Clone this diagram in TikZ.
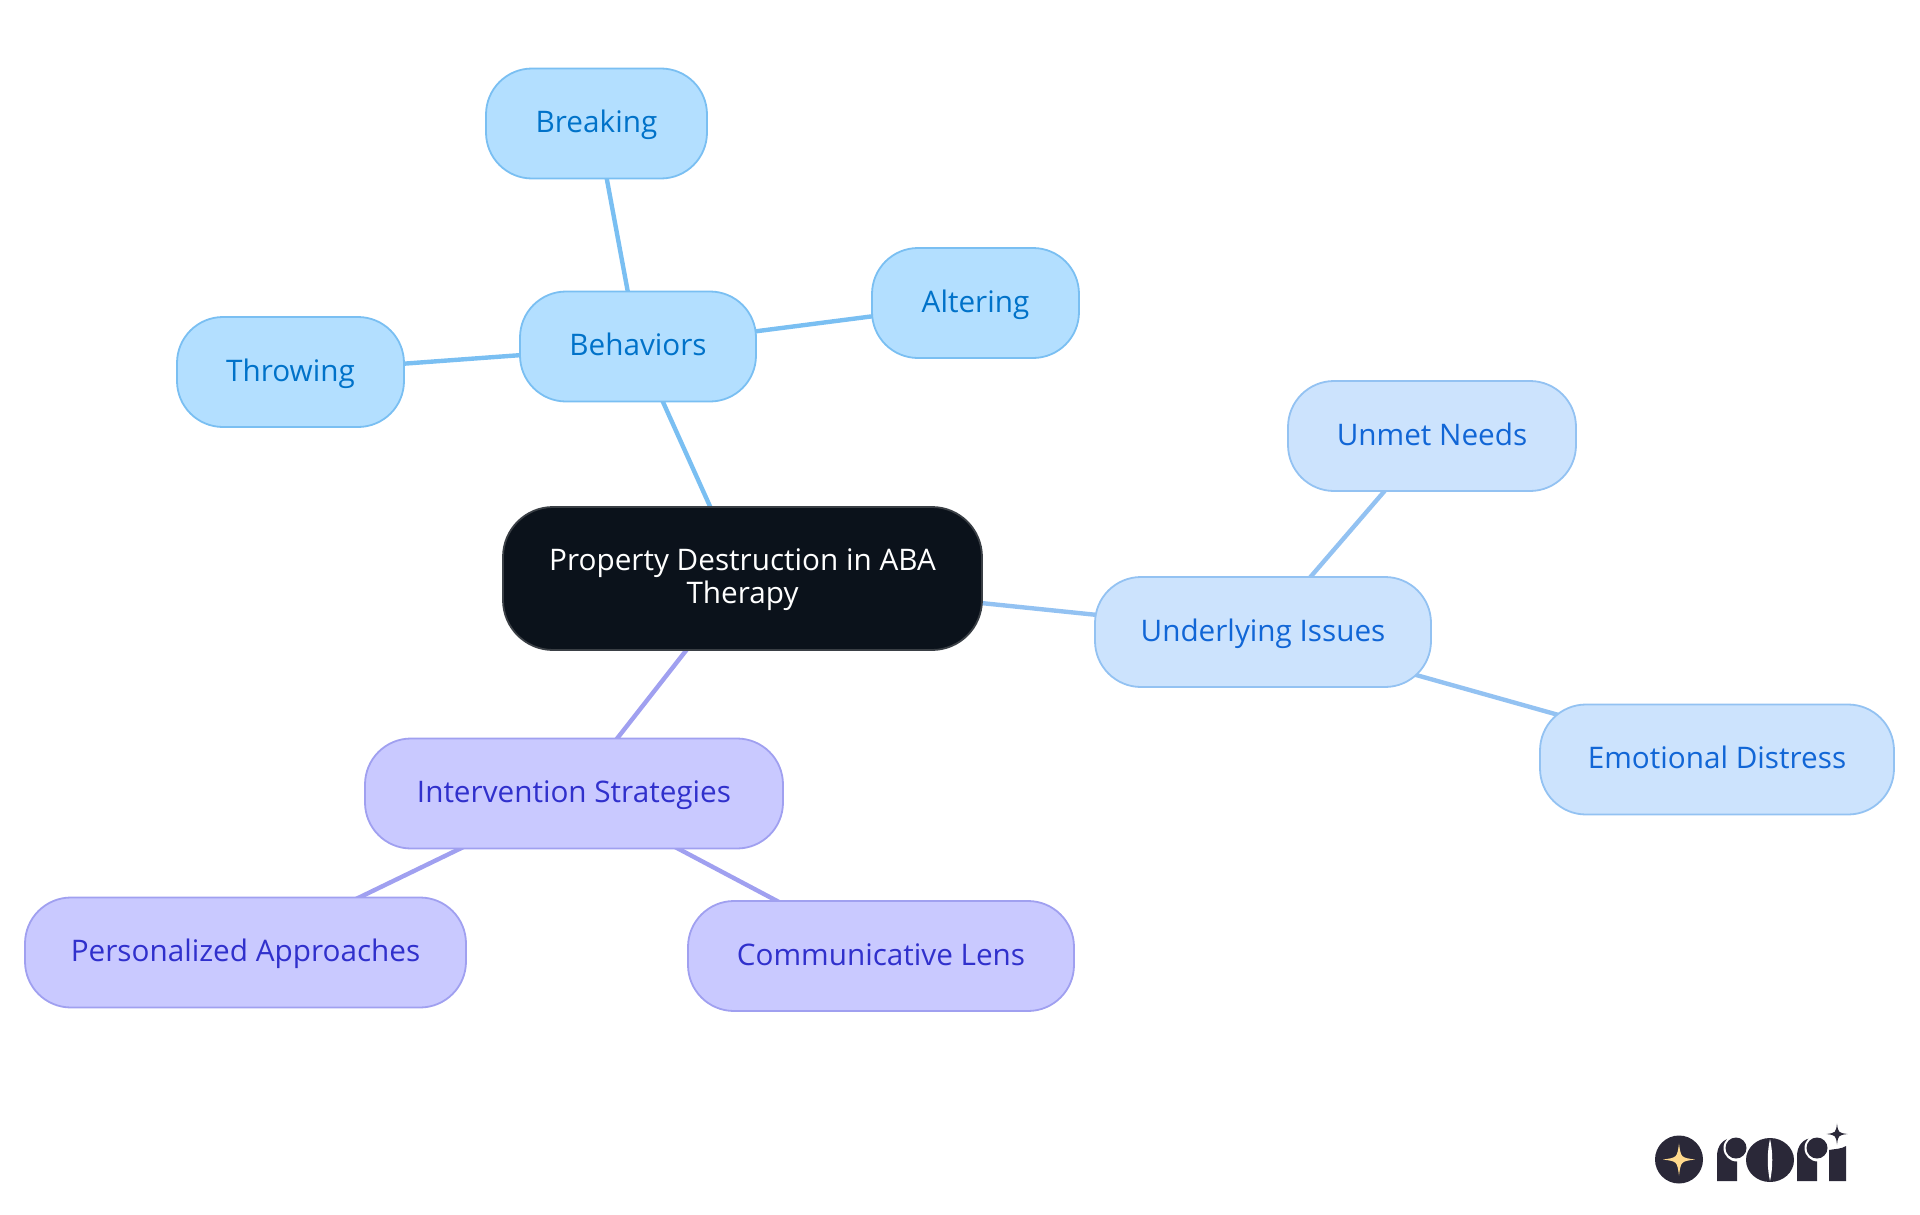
\documentclass[tikz,border=0pt]{standalone}
\usepackage{fontspec}
\setmainfont{Open Sans}
\usetikzlibrary{backgrounds}
\definecolor{rootfill}{HTML}{0B121B}
\definecolor{rootline}{HTML}{3A3F45}
\definecolor{afill}{HTML}{B3DFFF}
\definecolor{aline}{HTML}{7ABFF2}
\definecolor{atext}{HTML}{0072C9}
\definecolor{bfill}{HTML}{CCE3FD}
\definecolor{bline}{HTML}{93C2F2}
\definecolor{btext}{HTML}{1166D6}
\definecolor{cfill}{HTML}{C9C9FF}
\definecolor{cline}{HTML}{A0A0F0}
\definecolor{ctext}{HTML}{3030CC}
\definecolor{logodark}{HTML}{2A2838}
\definecolor{logostar}{HTML}{FFD98C}
\newcommand{\sparkle}[4]{\fill[#4] (#1,#2-#3) .. controls (#1+.12*#3,#2-.12*#3) and (#1+.12*#3,#2-.12*#3) .. (#1+#3,#2) .. controls (#1+.12*#3,#2+.12*#3) and (#1+.12*#3,#2+.12*#3) .. (#1,#2+#3) .. controls (#1-.12*#3,#2+.12*#3) and (#1-.12*#3,#2+.12*#3) .. (#1-#3,#2) .. controls (#1-.12*#3,#2-.12*#3) and (#1-.12*#3,#2-.12*#3) .. cycle;}
\tikzset{
  pill/.style={draw,line width=1.8pt,rounded corners=46pt,inner sep=0pt,minimum height=110pt,align=center,text height=25pt,text depth=7pt,font=\fontsize{29.7}{33}\selectfont},
  groupa/.style={pill,fill=afill,draw=aline,text=atext},
  groupb/.style={pill,fill=bfill,draw=bline,text=btext},
  groupc/.style={pill,fill=cfill,draw=cline,text=ctext},
  rootpill/.style={pill,fill=rootfill,draw=rootline,text=white,rounded corners=50pt,text height=,text depth=},
  linka/.style={draw=aline,line width=4.4pt},
  linkb/.style={draw=bline,line width=4.4pt},
  linkc/.style={draw=cline,line width=4.4pt},
}
\begin{document}
\begin{tikzpicture}[x=1pt,y=-1pt]
\useasboundingbox (0,0) rectangle (1920,1215);
\node[rootpill,minimum width=479pt,minimum height=143pt] (root) at (742.5,578.5) {\rule{0pt}{25pt}Property Destruction in ABA\\Therapy};
\node[groupa,minimum width=236pt] (behaviors) at (638,346.5) {Behaviors};
\node[groupa,minimum width=221pt] (breaking) at (596.5,123.5) {Breaking};
\node[groupa,minimum width=207pt] (altering) at (975.5,303) {Altering};
\node[groupa,minimum width=227pt] (throwing) at (290.5,372) {Throwing};
\node[groupb,minimum width=336pt] (issues) at (1263,632) {Underlying Issues};
\node[groupb,minimum width=288pt] (needs) at (1432,436) {Unmet Needs};
\node[groupb,minimum width=354pt] (distress) at (1717,759.5) {Emotional Distress};
\node[groupc,minimum width=418pt] (strategies) at (574,793.5) {Intervention Strategies};
\node[groupc,minimum width=441pt] (personal) at (245.5,952.5) {Personalized Approaches};
\node[groupc,minimum width=386pt] (lens) at (881,956) {Communicative Lens};
\begin{scope}[on background layer]
\draw[linka] (root.center) -- (behaviors.center);
\draw[linka] (behaviors.center) -- (breaking.center);
\draw[linka] (behaviors.center) -- (altering.center);
\draw[linka] (behaviors.center) -- (throwing.center);
\draw[linkb] (root.center) -- (issues.center);
\draw[linkb] (issues.center) -- (needs.center);
\draw[linkb] (issues.center) -- (distress.center);
\draw[linkc] (root.center) -- (strategies.center);
\draw[linkc] (strategies.center) -- (personal.center);
\draw[linkc] (strategies.center) -- (lens.center);
\end{scope}
% logo
\fill[logodark] (1679,1159.5) circle (24);
\sparkle{1679}{1159.5}{16}{logostar}
\fill[logodark] (1717,1181) -- (1717,1156) .. controls (1717,1146) and (1723,1138) .. (1733,1138) -- (1737,1138) -- (1737,1181) -- cycle;
\fill[white] (1737,1148) circle (13.5);
\fill[logodark] (1736,1148) circle (10.5);
\fill[logodark] (1770,1160) ellipse (24 and 22);
\fill[white] (1770,1139) .. controls (1767,1152) and (1767,1168) .. (1770,1181) .. controls (1773,1168) and (1773,1152) .. (1770,1139) -- cycle;
\fill[logodark] (1797,1181) -- (1797,1156) .. controls (1797,1146) and (1803,1138) .. (1813,1138) -- (1817,1138) -- (1817,1181) -- cycle;
\fill[white] (1818,1148) circle (13.5);
\fill[logodark] (1817,1148) circle (10.5);
\fill[logodark] (1829,1181) -- (1829,1150) .. controls (1834,1149) and (1842,1149) .. (1846,1146) -- (1846,1181) -- cycle;
\sparkle{1837}{1134}{10.5}{logodark}
\end{tikzpicture}
\end{document}
